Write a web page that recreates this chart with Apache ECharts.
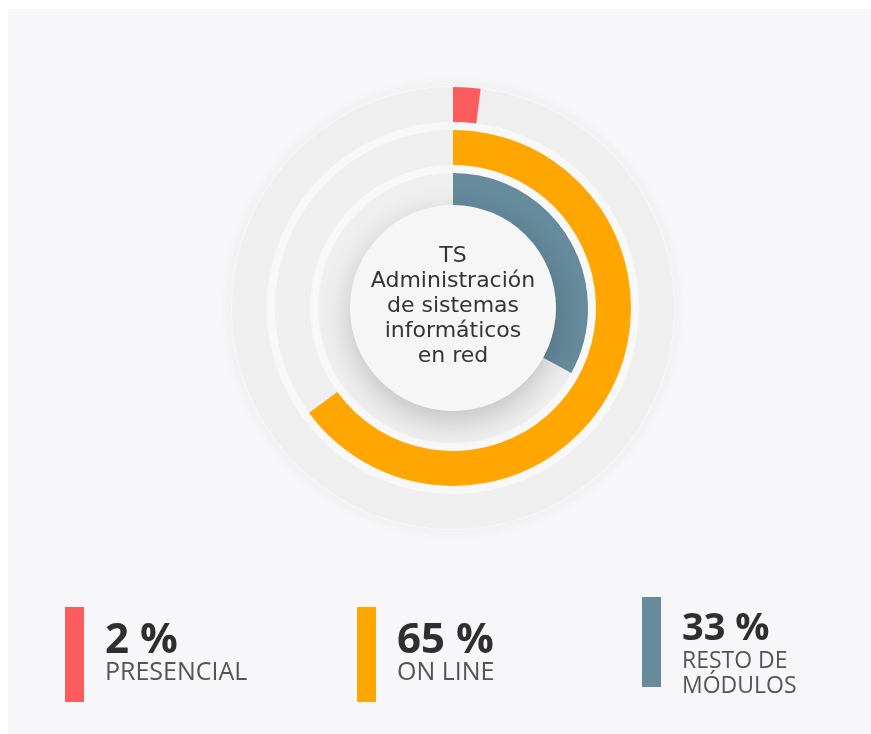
<!DOCTYPE html>
<html><head><meta charset="utf-8">
<script src="https://cdn.jsdelivr.net/npm/echarts@6/dist/echarts.min.js"></script>
<style>html,body{margin:0;padding:0;background:#fff}#c{width:871px;height:734px}</style>
</head><body><div id="c"></div>
<script>
// ---- data ----
const categories = ['PRESENCIAL', 'ON LINE', 'RESTO DE MÓDULOS'];
const values = [2, 65, 33];
const labelLines = [['PRESENCIAL'], ['ON LINE'], ['RESTO DE', 'MÓDULOS']];
const centerTitle = ['TS', 'Administración', 'de sistemas', 'informáticos', 'en red'];
const colors = ['#fd5c5c', '#ffa600', '#668b9c'];

// ---- layout (styling only) ----
const CX = 453, CY = 308;
const legendX = [65, 357, 642];
const barTop = [607, 607, 597];
const barH = [95, 95, 90];
const numSize = [42, 42, 38];
const numMid = [641, 641, 629];
const lblSize = [25, 25, 23];
const lblMid = [[673], [673], [661, 686]];

const chart = echarts.init(document.getElementById('c'), null, {renderer: 'canvas'});

// radial order: inner -> outer = reversed categories
const order = categories.map((_, i) => i).reverse();

const graphics = [
  {type: 'rect', z: -10, shape: {x: 8, y: 9, width: 863, height: 725}, style: {fill: '#f7f7f9'}, silent: true},
  {type: 'circle', z: -9, shape: {cx: CX, cy: CY, r: 226}, style: {fill: '#f2f2f3', shadowBlur: 10, shadowColor: 'rgba(0,0,0,0.04)'}, silent: true},
  {type: 'circle', z: -8, shape: {cx: CX, cy: CY, r: 222}, style: {fill: '#f8f8f9'}, silent: true},
  {type: 'circle', z: 5, shape: {cx: CX, cy: CY, r: 103}, style: {fill: '#f6f6f7', shadowBlur: 30, shadowOffsetY: 10, shadowColor: 'rgba(0,0,0,0.20)'}, silent: true},
  {type: 'text', z: 6, x: CX, y: CY - 2, style: {text: centerTitle.join('\n'), font: '22px "DejaVu Sans"', lineHeight: 25, fill: '#353535', textAlign: 'center', textVerticalAlign: 'middle', align: 'center', verticalAlign: 'middle'}, silent: true}
];

categories.forEach((c, i) => {
  graphics.push({type: 'rect', z: 1, shape: {x: legendX[i], y: barTop[i], width: 19, height: barH[i]}, style: {fill: colors[i]}, silent: true});
  graphics.push({type: 'text', z: 1, x: legendX[i] + 40, y: numMid[i], style: {text: values[i] + ' %', font: 'bold ' + numSize[i] + 'px "Open Sans"', fill: '#2f2f2f', textAlign: 'left', textVerticalAlign: 'middle', align: 'left', verticalAlign: 'middle'}, silent: true});
  labelLines[i].forEach((ln, j) => {
    graphics.push({type: 'text', z: 1, x: legendX[i] + 40, y: lblMid[i][j], style: {text: ln, font: lblSize[i] + 'px "Open Sans"', fill: '#555', textAlign: 'left', textVerticalAlign: 'middle', align: 'left', verticalAlign: 'middle'}, silent: true});
  });
});

chart.setOption({
  backgroundColor: '#ffffff',
  animation: false,
  polar: {center: [CX, CY], radius: [96, 225]},
  angleAxis: {type: 'value', min: 0, max: 100, startAngle: 90, clockwise: true, show: false},
  radiusAxis: {type: 'category', data: order.map(i => categories[i]), show: false},
  series: [{
    type: 'bar',
    coordinateSystem: 'polar',
    barWidth: 35,
    showBackground: true,
    backgroundStyle: {color: '#efeff0'},
    data: order.map(i => ({value: values[i], itemStyle: {color: colors[i]}})),
    z: 2
  }],
  graphic: {elements: graphics}
});
</script></body></html>
